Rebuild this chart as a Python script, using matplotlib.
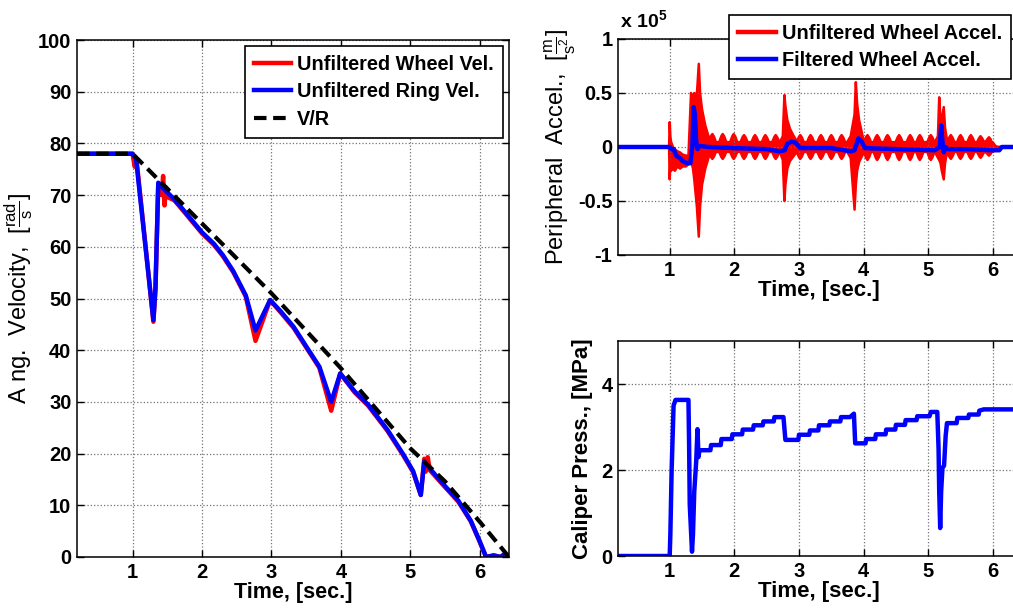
import numpy as np
import matplotlib
matplotlib.use("Agg")
import matplotlib.pyplot as plt
from matplotlib.lines import Line2D

plt.rcParams['font.family'] = ['Liberation Sans', 'DejaVu Sans']
plt.rcParams['mathtext.fontset'] = 'custom'
plt.rcParams['mathtext.rm'] = 'Liberation Sans'
plt.rcParams['mathtext.it'] = 'Liberation Sans:italic'
plt.rcParams['mathtext.bf'] = 'Liberation Sans:bold'

# ---------------- data: angular velocity ----------------
ring_t = [0.2, 1.0, 1.05, 1.30, 1.33, 1.37, 1.45, 1.6, 1.69, 2.0, 2.17, 2.3, 2.45, 2.63, 2.77,
          2.98, 3.14, 3.32, 3.55, 3.69, 3.86, 3.99, 4.2, 4.39, 4.67, 4.9, 5.04, 5.15, 5.2, 5.25,
          5.46, 5.69, 5.87, 5.99, 6.09, 6.2, 6.3, 6.35, 6.42]
ring_v = [78, 78, 77, 45.8, 52, 72.4, 71.2, 69.2, 67.8, 62.8, 60.6, 58.4, 55.3, 50.6, 43.8,
          49.7, 47.4, 44.5, 39.7, 36.8, 30, 35.5, 32, 29.5, 24.6, 19.8, 16.6, 12, 18.5, 17.6,
          14.3, 10.9, 7.0, 3.3, 0, 0.3, 0, 0.5, 0]

wheel_t = [0.2, 1.0, 1.03, 1.06, 1.30, 1.33, 1.37, 1.42, 1.44, 1.46, 1.48, 1.52, 1.6, 1.69, 2.0,
           2.17, 2.3, 2.45, 2.63, 2.77, 2.98, 3.14, 3.32, 3.55, 3.69, 3.86, 3.99, 4.2, 4.39,
           4.67, 4.9, 5.04, 5.15, 5.2, 5.22, 5.25, 5.28, 5.46, 5.69, 5.87, 5.99, 6.09, 6.2,
           6.3, 6.35, 6.42]
wheel_v = [78, 78, 75.5, 76.5, 45.5, 52, 72, 70, 73.7, 68, 71.5, 69.5, 69.0, 67.6, 62.6,
           60.4, 58.2, 55.1, 50.4, 41.8, 49.7, 47.2, 44.3, 39.5, 36.6, 28.3, 35.5, 31.8, 29.3,
           24.4, 19.6, 16.4, 12, 19.0, 16.5, 19.3, 16.8, 14.1, 10.7, 6.9, 3.2, 0, 0.3,
           0, 0.5, 0]

vr_t = [0.2, 1.0, 2.0, 3.0, 4.0, 5.0, 5.5, 6.0, 6.42]
vr_v = [78, 78, 64.5, 51, 36.5, 21, 14.6, 6.8, 0]

# ---------------- data: peripheral acceleration (x 1e5) ----------------
# large bursts: time, upper envelope, lower envelope
burst_t = [0.99, 1.0, 1.01, 1.02, 1.05, 1.08, 1.12, 1.16, 1.2, 1.25, 1.29, 1.31, 1.33, 1.36,
           1.38, 1.42, 1.45, 1.47, 1.5, 1.55, 1.6,
           2.70, 2.75, 2.775, 2.79, 2.82, 2.86, 2.91, 2.96,
           3.74, 3.80, 3.86, 3.88, 3.90, 3.93, 3.97, 4.0,
           5.10, 5.15, 5.17, 5.19, 5.21, 5.24, 5.26, 5.29,
           5.99, 6.04, 6.08]
burst_hi = [0.0, 0.23, 0.1, 0.05, 0.0, -0.02, -0.04, -0.05, -0.07, -0.08, -0.08, 0.2, 0.5, 0.4,
            0.5, 0.48, 0.77, 0.5, 0.35, 0.2, 0.1,
            0.04, 0.1, 0.48, 0.38, 0.25, 0.17, 0.11, 0.06,
            0.04, 0.1, 0.3, 0.6, 0.4, 0.25, 0.14, 0.06,
            0.04, 0.1, 0.46, 0.25, 0.25, 0.37, 0.18, 0.06,
            0.03, 0.01, 0.0]
burst_lo = [0.0, -0.3, -0.15, -0.22, -0.2, -0.22, -0.18, -0.2, -0.18, -0.18, -0.16, -0.1, -0.12, -0.2,
            -0.3, -0.55, -0.83, -0.55, -0.35, -0.2, -0.1,
            -0.04, -0.12, -0.5, -0.35, -0.2, -0.13, -0.09, -0.05,
            -0.04, -0.1, -0.58, -0.35, -0.22, -0.14, -0.09, -0.05,
            -0.04, -0.1, -0.12, -0.15, -0.22, -0.3, -0.15, -0.05,
            -0.04, -0.03, 0.0]
# periodic ringing teeth between the bursts
tooth_t = [1.66, 1.82, 1.99, 2.15, 2.32, 2.48, 2.64,
           3.02, 3.18, 3.34, 3.50, 3.66,
           4.06, 4.21, 4.37, 4.55, 4.72, 4.87, 5.04,
           5.35, 5.50, 5.66, 5.81, 5.94]
tooth_hi = [0.12, 0.12, 0.12, 0.11, 0.11, 0.11, 0.11,
            0.11, 0.11, 0.11, 0.11, 0.11,
            0.11, 0.11, 0.11, 0.11, 0.11, 0.11, 0.11,
            0.11, 0.11, 0.11, 0.10, 0.09]
tooth_lo = [-0.11, -0.11, -0.11, -0.11, -0.11, -0.11, -0.11,
            -0.11, -0.11, -0.11, -0.11, -0.11,
            -0.12, -0.12, -0.12, -0.12, -0.12, -0.12, -0.12,
            -0.11, -0.11, -0.11, -0.10, -0.08]

filt_t = [0.2, 1.0, 1.03, 1.06, 1.1, 1.15, 1.2, 1.27, 1.32, 1.35, 1.37, 1.39, 1.41, 1.43, 1.46,
          1.6, 2.0, 2.5, 2.7, 2.78, 2.82, 2.88, 2.95, 3.02, 3.5, 3.8, 3.86, 3.92, 3.97, 4.02,
          4.5, 5.1, 5.18, 5.2, 5.22, 5.24, 5.27, 5.3, 5.6, 6.0, 6.1, 6.14, 6.42]
filt_v = [0, 0, -0.02, -0.02, -0.08, -0.1, -0.13, -0.15, -0.15, 0.0, 0.37, 0.3, 0.05, -0.02, 0.01,
          0.0, -0.01, -0.02, -0.04, -0.03, 0.03, 0.05, 0.04, -0.01, -0.01, -0.04, -0.03, 0.08, 0.05, -0.01,
          -0.02, -0.03, 0.0, 0.2, 0.05, -0.05, 0.0, -0.02, -0.02, -0.03, -0.03, 0.0, 0.0]

# ---------------- data: caliper pressure ----------------
press_t = [0.2, 1.0, 1.01, 1.03, 1.06, 1.09, 1.29, 1.30, 1.31, 1.345, 1.36, 1.38, 1.41, 1.43, 1.445,
           1.46, 1.63, 1.64, 1.79, 1.80, 1.96, 1.97, 2.12, 2.13, 2.29, 2.30, 2.44, 2.45, 2.61, 2.62,
           2.76, 2.79, 2.99, 3.0, 3.16, 3.17, 3.30, 3.31, 3.47, 3.48, 3.64, 3.65, 3.79, 3.85, 3.87,
           4.03, 4.04, 4.18, 4.19, 4.34, 4.35, 4.49, 4.50, 4.64, 4.65, 4.82, 4.83, 5.02, 5.04, 5.14,
           5.16, 5.17, 5.185, 5.20, 5.22, 5.245, 5.27, 5.29, 5.44, 5.45, 5.62, 5.63, 5.78, 5.79,
           5.86, 6.42]
press_v = [0, 0, 0.5, 2.0, 3.5, 3.63, 3.63, 2.6, 1.2, 0.1, 0.5, 1.5, 2.2, 2.95, 2.3,
           2.46, 2.46, 2.58, 2.58, 2.72, 2.72, 2.83, 2.83, 2.94, 2.94, 3.04, 3.04, 3.13, 3.13, 3.23,
           3.23, 2.7, 2.7, 2.82, 2.82, 2.92, 2.92, 3.04, 3.04, 3.13, 3.13, 3.23, 3.23, 3.31, 2.62,
           2.62, 2.72, 2.72, 2.83, 2.83, 2.94, 2.94, 3.05, 3.05, 3.16, 3.16, 3.25, 3.25, 3.35, 3.35,
           2.5, 1.5, 0.65, 1.5, 2.05, 2.1, 2.8, 3.09, 3.09, 3.21, 3.21, 3.29, 3.29, 3.38,
           3.41, 3.41]

vel_ticks = list(range(0, 101, 10))
acc_ticks = [-1, -0.5, 0, 0.5, 1]
acc_ticklabels = ['-1', '-0.5', '0', '0.5', '1']
press_ticks = [0, 2, 4]
time_ticks = [1, 2, 3, 4, 5, 6]

# ---------------- figure ----------------
W, H = 1013, 611
fig = plt.figure(figsize=(W / 100, H / 100), dpi=100)

def px_axes(x0, y0, x1, y1):
    return fig.add_axes([x0 / W, 1 - y1 / H, (x1 - x0) / W, (y1 - y0) / H])

ax1 = px_axes(77, 40, 509, 557)
ax2 = px_axes(618, 39, 1020, 255)
ax3 = px_axes(618, 341, 1020, 556)

TICK_FS = 14.5
LAB_FS = 16

def style(ax):
    ax.tick_params(direction='in', length=5, width=1, top=True, right=True,
                   labelsize=TICK_FS, pad=4)
    for lab in ax.get_xticklabels() + ax.get_yticklabels():
        lab.set_fontweight('bold')
    ax.grid(True, color='0.45', linestyle=':', linewidth=0.9)
    for sp in ax.spines.values():
        sp.set_linewidth(1.1)
        sp.set_color('black')

leg_kw = dict(prop={'weight': 'bold', 'size': 14.3}, frameon=True, fancybox=False,
              edgecolor='black', framealpha=1, borderpad=0.45, labelspacing=0.42,
              handlelength=1.9, handletextpad=0.3, borderaxespad=0)

# ---- left panel ----
ax1.plot(wheel_t, wheel_v, color='red', lw=3.2, label='Unfiltered Wheel Vel.', solid_joinstyle='round')
ax1.plot(ring_t, ring_v, color='blue', lw=3.2, label='Unfiltered Ring Vel.', solid_joinstyle='round')
ax1.plot(vr_t, vr_v, color='black', lw=3, ls=(0, (3, 1.6)), label='V/R')
ax1.set_xlim(0.2, 6.42)
ax1.set_ylim(0, 100)
ax1.set_xticks(time_ticks)
ax1.set_yticks(vel_ticks)
style(ax1)
ax1.set_xlabel('Time, [sec.]', fontsize=15.5, fontweight='bold', labelpad=0)
ax1.set_ylabel(r'A ng.  Velocity,  $[\frac{\mathrm{rad}}{\mathrm{s}}]$', fontsize=17)
ax1.yaxis.set_label_coords(-0.097, 0.5)
leg1 = ax1.legend(loc='upper right', bbox_to_anchor=(503 / W, 1 - 46 / H),
                  bbox_transform=fig.transFigure, **leg_kw)
leg1.get_frame().set_linewidth(1.2)

# ---- top right panel ----
env = []
for t, h, l in zip(burst_t, burst_hi, burst_lo):
    env.append((t, h, l))
for tk, a, b in zip(tooth_t, tooth_hi, tooth_lo):
    env.append((tk - 0.055, 0.045, -0.045))
    env.append((tk - 0.02, 0.85 * a, 0.85 * b))
    env.append((tk, a, b))
    env.append((tk + 0.025, 0.8 * a, 0.8 * b))
    env.append((tk + 0.055, 0.045, -0.045))
env.append((0.2, 0.0, 0.0))
env.append((6.42, 0.0, 0.0))
env.sort(key=lambda r: r[0])
et = np.array([r[0] for r in env])
eh = np.array([r[1] for r in env])
el = np.array([r[2] for r in env])
ax2.fill_between(et, el, eh, color='red', lw=0)
ax2.plot(et, eh, color='red', lw=1.8)
ax2.plot(et, el, color='red', lw=1.8)
ax2.plot(filt_t, filt_v, color='blue', lw=3.2, solid_joinstyle='round')
ax2.set_xlim(0.2, 6.42)
ax2.set_ylim(-1, 1)
ax2.set_xticks(time_ticks)
ax2.set_yticks(acc_ticks)
ax2.set_yticklabels(acc_ticklabels)
style(ax2)
ax2.set_xlabel('Time, [sec.]', fontsize=LAB_FS, fontweight='bold', labelpad=0)
ax2.set_ylabel(r'Peripheral  Accel.,  $[\frac{\mathrm{m}}{\mathrm{s}^2}]$', fontsize=17)
ax2.yaxis.set_label_coords(-0.10, 0.5)
fig.text(620 / W, 1 - 27 / H, r'x 10$^{\mathbf{5}}$', fontsize=14, fontweight='bold',
         ha='left', va='baseline')
handles = [Line2D([], [], color='red', lw=3.2), Line2D([], [], color='blue', lw=3.2)]
leg2 = fig.legend(handles, ['Unfiltered Wheel Accel.', 'Filtered Wheel Accel.'],
                  loc='upper left', bbox_to_anchor=(729 / W, 1 - 15 / H), **leg_kw)
leg2.get_frame().set_linewidth(1.2)

# ---- bottom right panel ----
ax3.plot(press_t, press_v, color='blue', lw=3.2, solid_joinstyle='round')
ax3.set_xlim(0.2, 6.42)
ax3.set_ylim(0, 5)
ax3.set_xticks(time_ticks)
ax3.set_yticks(press_ticks)
style(ax3)
ax3.set_xlabel('Time, [sec.]', fontsize=LAB_FS, fontweight='bold', labelpad=0)
ax3.set_ylabel('Caliper Press., [MPa]', fontsize=LAB_FS, fontweight='bold')
ax3.yaxis.set_label_coords(-0.062, 0.5)

fig.savefig('out.png', dpi=100)
